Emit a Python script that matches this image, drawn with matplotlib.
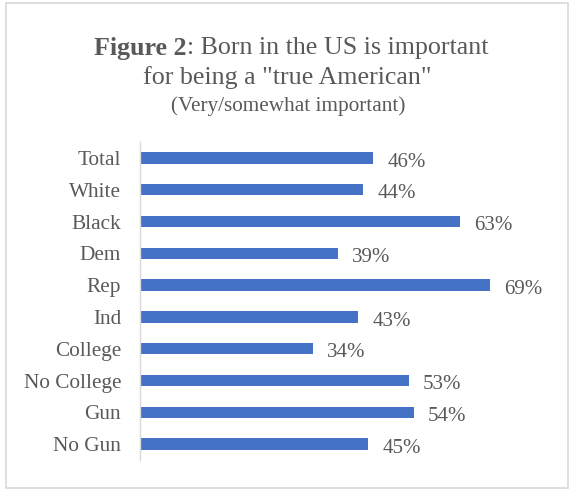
import matplotlib.pyplot as plt
from matplotlib.patches import Rectangle

categories = ["Total", "White", "Black", "Dem", "Rep", "Ind", "College",
              "No College", "Gun", "No Gun"]
values = [46, 44, 63, 39, 69, 43, 34, 53, 54, 45]

bar_color = "#4472C4"
text_color = "#595959"
plt.rcParams["font.family"] = ["Liberation Serif", "DejaVu Serif"]

fig = plt.figure(figsize=(5.73, 4.91), dpi=100)
ax = fig.add_axes([0.2443, 0.0631, 0.7087, 0.6477])

y = list(range(len(categories)))
ax.barh(y, values, height=0.355, color=bar_color)
ax.set_ylim(len(categories) - 0.5, -0.5)
ax.set_xlim(0, 80)
ax.set_yticks(y)
ax.set_yticklabels(categories, fontsize=15.3, color=text_color)
ax.tick_params(axis="y", length=0, pad=13.5)
ax.set_xticks([])
for s in ["top", "right", "bottom"]:
    ax.spines[s].set_visible(False)
ax.spines["left"].set_color("#d9d9d9")
ax.spines["left"].set_linewidth(1.0)

for yi, v in zip(y, values):
    ax.annotate(f"{v}%", (v, yi), xytext=(10, -3), textcoords="offset points",
                va="center", ha="left", fontsize=15, color=text_color)

# outer frame
fig.patches.append(Rectangle((6 / 573, 3 / 491), 562 / 573, 485 / 491,
                             transform=fig.transFigure, fill=False,
                             edgecolor="#d9d9d9", linewidth=1.2))

# title: bold lead followed by regular text on the same line
r = fig.canvas.get_renderer()
t1 = fig.text(0, 1 - 48 / 491, "Figure 2", fontsize=18.7, fontweight="bold",
              color=text_color, va="center", ha="left")
t2 = fig.text(0, 1 - 48 / 491, ": Born in the US is important", fontsize=18.7,
              color=text_color, va="center", ha="left")
w1 = t1.get_window_extent(r).width / fig.bbox.width
w2 = t2.get_window_extent(r).width / fig.bbox.width
x0 = 291 / 573 - (w1 + w2) / 2
t1.set_x(x0)
t2.set_x(x0 + w1)
fig.text(287 / 573, 1 - 78 / 491, 'for being a "true American"', fontsize=18.7,
         color=text_color, va="center", ha="center")
fig.text(288 / 573, 1 - 106 / 491, "(Very/somewhat important)", fontsize=15.3,
         color=text_color, va="center", ha="center")

fig.savefig("out.png", dpi=100)
